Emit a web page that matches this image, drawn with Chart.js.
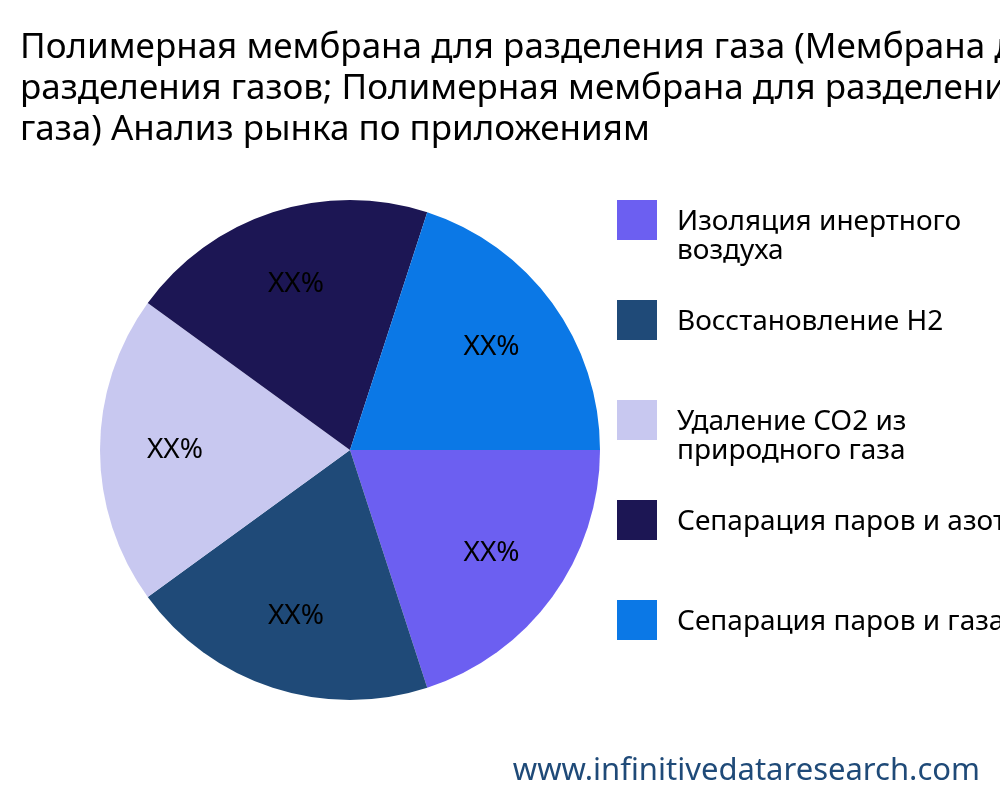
<!DOCTYPE html>
<html><head><meta charset="utf-8">
<script src="https://cdn.jsdelivr.net/npm/chart.js@4"></script>
<style>html,body{margin:0;padding:0;overflow:hidden;background:#fff}#w{width:1000px;height:800px}</style>
</head><body><div id="w"><canvas id="c"></canvas></div>
<script>
const titleLines = ["Полимерная мембрана для разделения газа (Мембрана для", "разделения газов; Полимерная мембрана для разделения", "газа) Анализ рынка по приложениям"];
const categories = [["Изоляция инертного", "воздуха"], ["Восстановление H2"], ["Удаление CO2 из", "природного газа"], ["Сепарация паров и азота"], ["Сепарация паров и газа"]];
const values = [20, 20, 20, 20, 20];
const valueLabels = ["XX%", "XX%", "XX%", "XX%", "XX%"];
const colors = ["#6c5ff1", "#1f4a78", "#c8c8f0", "#1c1654", "#0b78e6"];
const watermark = "www.infinitivedataresearch.com";
const F = "'Noto Sans', 'Open Sans', sans-serif";

const deco = {
  id: 'deco',
  afterDraw(chart) {
    const ctx = chart.ctx;
    ctx.save();
    ctx.fillStyle = '#000';
    ctx.textBaseline = 'alphabetic';
    ctx.textAlign = 'left';
    ctx.font = '35px ' + F;
    titleLines.forEach((t, i) => ctx.fillText(t, 20, 58 + i * 41));
    const meta = chart.getDatasetMeta(0);
    ctx.font = '28px ' + F;
    ctx.textAlign = 'center';
    ctx.textBaseline = 'middle';
    meta.data.forEach((arc, i) => {
      const a = (arc.startAngle + arc.endAngle) / 2;
      const r = arc.outerRadius * 0.7;
      ctx.fillText(valueLabels[i], arc.x + Math.cos(a) * r, arc.y + Math.sin(a) * r);
    });
    ctx.textAlign = 'left';
    ctx.textBaseline = 'alphabetic';
    ctx.font = '28px ' + F;
    categories.forEach((lab, i) => {
      const y = 200 + i * 100;
      ctx.fillStyle = colors[i];
      ctx.fillRect(617, y, 40, 40);
      ctx.fillStyle = '#000';
      lab.forEach((l, j) => ctx.fillText(l, 677, y + 30 + j * 29));
    });
    ctx.fillStyle = '#1f4a78';
    ctx.font = '31px ' + F;
    ctx.textAlign = 'right';
    ctx.fillText(watermark, 980, 780);
    ctx.restore();
  }
};

new Chart(document.getElementById('c'), {
  type: 'pie',
  data: { labels: categories.map(c => c.join(' ')), datasets: [{ data: values, backgroundColor: colors, borderWidth: 0 }] },
  options: {
    responsive: true, maintainAspectRatio: false, animation: false,
    rotation: 90,
    layout: { padding: { left: 100, right: 400, top: 200, bottom: 100 } },
    plugins: { legend: { display: false }, tooltip: { enabled: false } }
  },
  plugins: [deco]
});
</script></body></html>
